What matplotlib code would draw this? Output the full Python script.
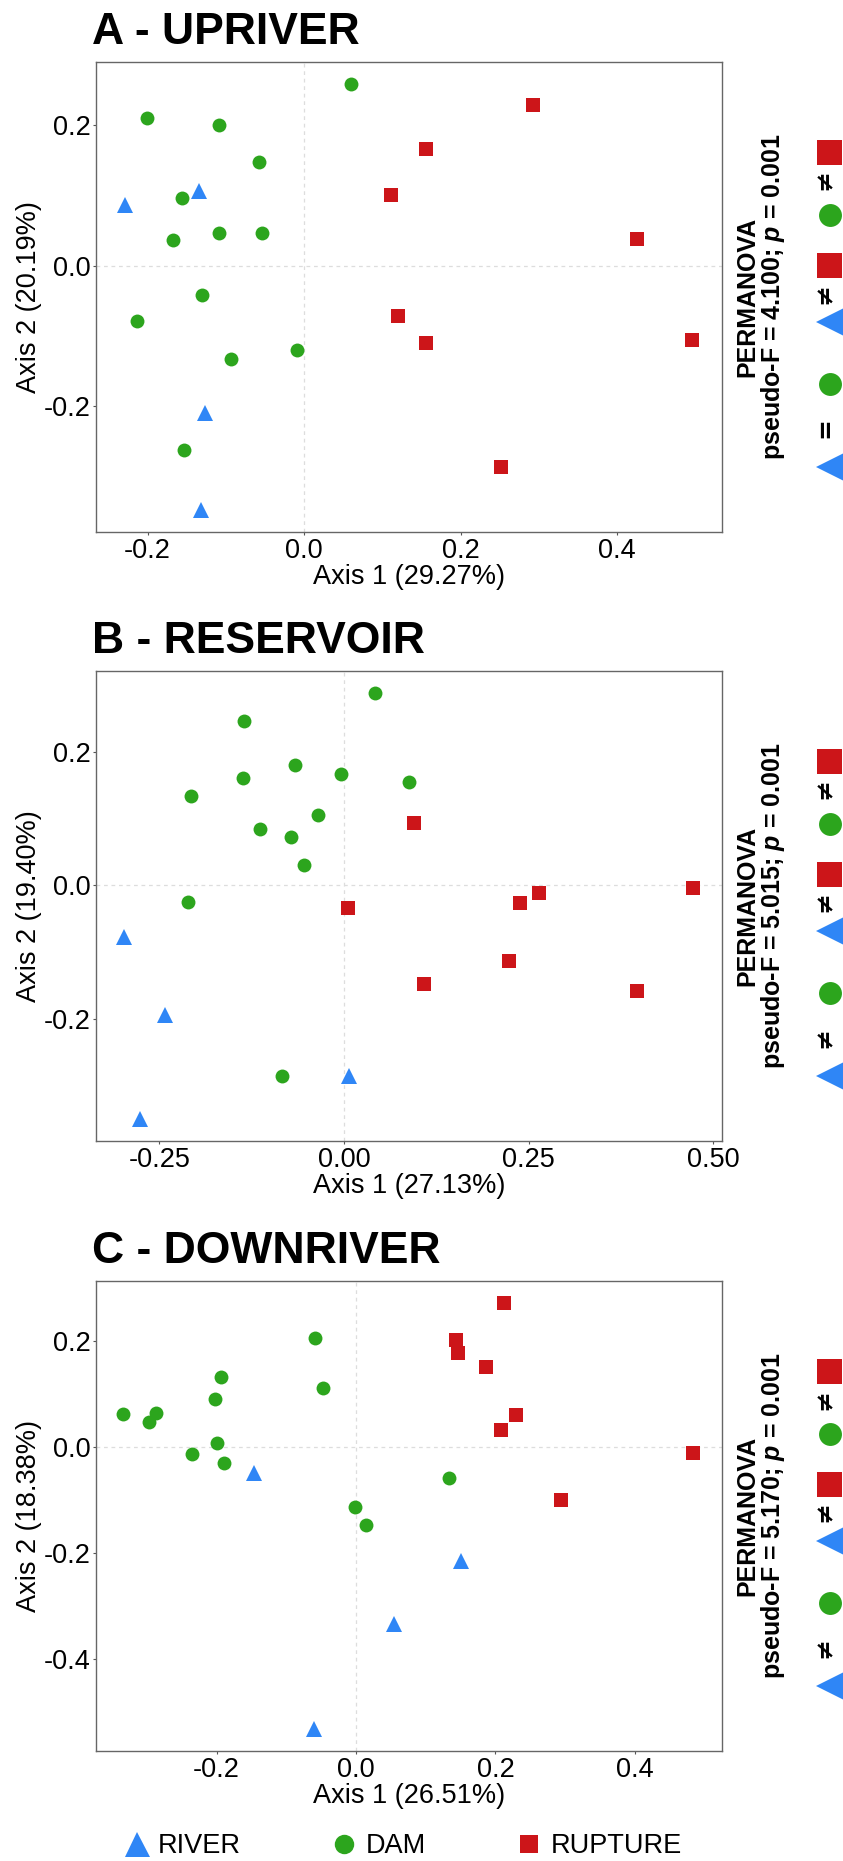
import matplotlib
matplotlib.use('Agg')
import matplotlib.pyplot as plt
from matplotlib.lines import Line2D

plt.rcParams['font.family'] = ['Liberation Sans', 'DejaVu Sans']
plt.rcParams['axes.unicode_minus'] = False
plt.rcParams['mathtext.fontset'] = 'custom'
plt.rcParams['mathtext.it'] = 'Liberation Sans:italic:bold'
plt.rcParams['mathtext.rm'] = 'Liberation Sans:bold'

# colores de los grupos
c_river = '#2f86f6'
c_dam = '#2ca51d'
c_rupture = '#cc1519'

# A - UPRIVER
a_river_x = [-0.229, -0.135, -0.127, -0.132]
a_river_y = [0.086, 0.107, -0.210, -0.347]
a_dam_x = [0.060, -0.201, -0.109, -0.058, -0.156, -0.168, -0.109, -0.054, -0.130, -0.213, -0.009, -0.093, -0.153]
a_dam_y = [0.258, 0.210, 0.201, 0.147, 0.097, 0.036, 0.047, 0.046, -0.041, -0.079, -0.120, -0.133, -0.262]
a_rup_x = [0.292, 0.156, 0.111, 0.426, 0.120, 0.156, 0.496, 0.251]
a_rup_y = [0.229, 0.166, 0.100, 0.038, -0.072, -0.110, -0.106, -0.287]

# B - RESERVOIR
b_river_x = [-0.298, -0.242, 0.007, -0.276]
b_river_y = [-0.078, -0.194, -0.286, -0.350]
b_dam_x = [0.042, -0.135, -0.066, -0.137, -0.004, 0.088, -0.207, -0.035, -0.114, -0.072, -0.054, -0.211, -0.084]
b_dam_y = [0.288, 0.246, 0.180, 0.161, 0.166, 0.155, 0.134, 0.105, 0.085, 0.073, 0.031, -0.025, -0.285]
b_rup_x = [0.095, 0.006, 0.239, 0.264, 0.473, 0.224, 0.108, 0.397]
b_rup_y = [0.093, -0.034, -0.027, -0.011, -0.004, -0.113, -0.148, -0.158]

# C - DOWNRIVER
c_river_x = [-0.146, 0.150, 0.054, -0.060]
c_river_y = [-0.050, -0.216, -0.335, -0.533]
c_dam_x = [-0.059, -0.194, -0.048, -0.202, -0.334, -0.287, -0.297, -0.199, -0.235, -0.189, 0.133, -0.002, 0.014]
c_dam_y = [0.205, 0.131, 0.112, 0.090, 0.062, 0.064, 0.046, 0.007, -0.013, -0.030, -0.059, -0.113, -0.148]
c_rup_x = [0.212, 0.143, 0.146, 0.186, 0.229, 0.208, 0.483, 0.294]
c_rup_y = [0.271, 0.201, 0.178, 0.150, 0.061, 0.032, -0.011, -0.100]

titulos = ['A - UPRIVER', 'B - RESERVOIR', 'C - DOWNRIVER']
eje1 = ['Axis 1 (29.27%)', 'Axis 1 (27.13%)', 'Axis 1 (26.51%)']
eje2 = ['Axis 2 (20.19%)', 'Axis 2 (19.40%)', 'Axis 2 (18.38%)']
pseudo_f = ['4.100', '5.015', '5.170']
p_valor = ['0.001', '0.001', '0.001']
river_dam = ['=', '≠', '≠']
xticks = [[-0.2, 0.0, 0.2, 0.4], [-0.25, 0.0, 0.25, 0.5], [-0.2, 0.0, 0.2, 0.4]]
yticks = [[-0.2, 0.0, 0.2], [-0.2, 0.0, 0.2], [-0.4, -0.2, 0.0, 0.2]]
xfmt = ['%.1f', '%.2f', '%.1f']
xlims = [(-0.266, 0.534), (-0.336, 0.512), (-0.373, 0.525)]
ylims = [(-0.379, 0.290), (-0.383, 0.321), (-0.574, 0.313)]

datos = [
    (a_river_x, a_river_y, a_dam_x, a_dam_y, a_rup_x, a_rup_y),
    (b_river_x, b_river_y, b_dam_x, b_dam_y, b_rup_x, b_rup_y),
    (c_river_x, c_river_y, c_dam_x, c_dam_y, c_rup_x, c_rup_y),
]

W, H = 843, 1861
fig = plt.figure(figsize=(W / 100, H / 100), dpi=100)

tops = [62, 671, 1281]  # px desde arriba
alto = 470
izq, der = 96, 722
fs = 19.5

for i in range(3):
    top = tops[i]
    ax = fig.add_axes([izq / W, 1 - (top + alto) / H, (der - izq) / W, alto / H])
    rx, ry, dx, dy, ux, uy = datos[i]
    ax.axhline(0, color='#dddddd', lw=0.9, ls=(0, (3, 3)), zorder=0)
    ax.axvline(0, color='#dddddd', lw=0.9, ls=(0, (3, 3)), zorder=0)
    ax.plot(rx, ry, '^', color=c_river, ms=11, mew=0, ls='none')
    ax.plot(dx, dy, 'o', color=c_dam, ms=10, mew=0, ls='none')
    ax.plot(ux, uy, 's', color=c_rupture, ms=10.5, mew=0, ls='none')
    ax.set_xlim(*xlims[i])
    ax.set_ylim(*ylims[i])
    ax.set_xticks(xticks[i])
    ax.set_yticks(yticks[i])
    ax.set_xticklabels([xfmt[i] % v for v in xticks[i]])
    ax.set_yticklabels(['%.1f' % v for v in yticks[i]])
    ax.tick_params(labelsize=fs, length=2.5, width=0.8, color='#555555', pad=1.5)
    for s in ax.spines.values():
        s.set_color('#666666')
        s.set_linewidth(1.0)
    ax.set_xlabel(eje1[i], fontsize=fs, labelpad=0)
    ax.set_ylabel(eje2[i], fontsize=fs, labelpad=1)
    ax.annotate(titulos[i], xy=(0, 1), xycoords='axes fraction', xytext=(-3, 13),
                textcoords='offset points', fontsize=32, fontweight='bold',
                ha='left', va='baseline')

    # PERMANOVA a la derecha
    yc = 1 - (top + alto / 2) / H
    fig.text(747 / W, yc, 'PERMANOVA', rotation=90, ha='center', va='center',
             fontsize=18, fontweight='bold')
    fig.text(773 / W, yc, 'pseudo-F = ' + pseudo_f[i] + '; $p$ = ' + p_valor[i],
             rotation=90, ha='center', va='center', fontsize=18, fontweight='bold')

    # comparaciones por pares
    simbolos = [('<', c_river), (river_dam[i], None), ('o', c_dam),
                ('<', c_river), ('≠', None), ('s', c_rupture),
                ('o', c_dam), ('≠', None), ('s', c_rupture)]
    offs = [-165, -126, -82, -20, 9, 37, 87, 122, 150]
    for (sym, col), o in zip(simbolos, offs):
        ypx = top + alto / 2 - o + 5
        if col is None:
            fig.text(825 / W, 1 - ypx / H, sym, rotation=90, ha='center', va='center',
                     fontsize=18, fontweight='bold', family='DejaVu Sans')
        else:
            ms = {'<': 29, 'o': 16.5, 's': 18}[sym]
            xpx = {'<': 836, 'o': 830, 's': 829}[sym]
            fig.add_artist(Line2D([xpx / W], [1 - ypx / H], marker=sym, color=col,
                                  ms=ms, mew=0, ls='none', transform=fig.transFigure))

# leyenda inferior
handles = [Line2D([], [], marker='^', color=c_river, ms=18, mew=0, ls='none'),
           Line2D([], [], marker='o', color=c_dam, ms=14, mew=0, ls='none'),
           Line2D([], [], marker='s', color=c_rupture, ms=13.5, mew=0, ls='none')]
fig.legend(handles, ['RIVER', 'DAM', 'RUPTURE'], loc='center left',
           bbox_to_anchor=(123 / W, 1 - 1846 / H), ncol=3, frameon=False,
           fontsize=fs, handlelength=1.0, handletextpad=0.3, columnspacing=3.3,
           borderpad=0, borderaxespad=0)

fig.savefig('out.png', dpi=100)
